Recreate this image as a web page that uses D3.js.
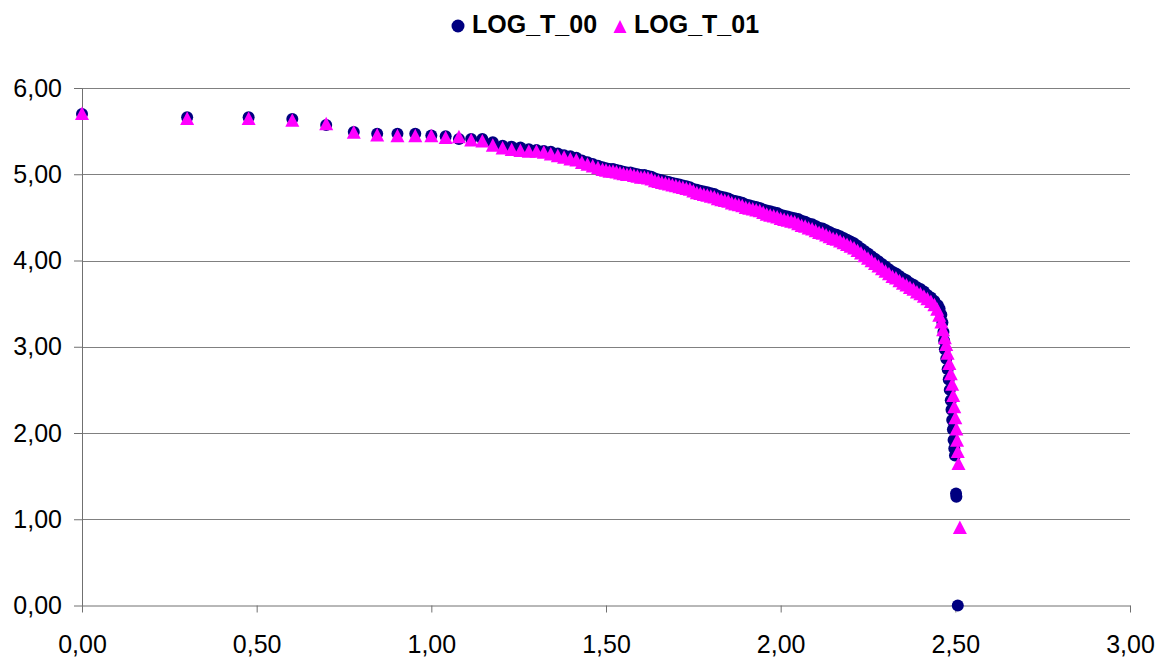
<!DOCTYPE html>
<html>
<head>
<meta charset="utf-8">
<script src="https://cdn.jsdelivr.net/npm/d3@7"></script>
<style>
  body { margin: 0; background: #fff; }
  svg { display: block; font-family: Arial, "Liberation Sans", sans-serif; }
</style>
</head>
<body>
<svg id="chart" width="1164" height="657"></svg>
<script>
// Rank-size points: [log rank, log value]
var seriesNames = ['LOG_T_00', 'LOG_T_01'];
var xTicks = [0, 0.5, 1, 1.5, 2, 2.5, 3];
var yTicks = [0, 1, 2, 3, 4, 5, 6];

var log_t_00 = [
  [0.000,5.70],[0.301,5.66],[0.477,5.66],[0.602,5.64],[0.699,5.57],[0.778,5.49],[0.845,5.47],[0.903,5.47],
  [0.954,5.47],[1.000,5.45],[1.041,5.44],[1.079,5.41],[1.114,5.41],[1.146,5.41],[1.176,5.37],[1.204,5.33],
  [1.230,5.32],[1.255,5.31],[1.279,5.29],[1.301,5.28],[1.322,5.27],[1.342,5.26],[1.362,5.24],[1.380,5.22],
  [1.398,5.21],[1.415,5.19],[1.431,5.16],[1.447,5.14],[1.462,5.12],[1.477,5.10],
  [1.49,5.08],[1.50,5.07],[1.51,5.06],[1.52,5.06],[1.53,5.05],[1.54,5.04],[1.55,5.03],[1.56,5.02],
  [1.57,5.02],[1.58,5.01],[1.59,5.00],[1.60,4.99],[1.61,4.99],[1.62,4.98],[1.63,4.97],[1.64,4.95],
  [1.65,4.94],[1.66,4.93],[1.67,4.92],[1.68,4.91],[1.69,4.90],[1.70,4.89],[1.71,4.88],[1.72,4.87],
  [1.73,4.86],[1.74,4.85],[1.75,4.83],[1.76,4.82],[1.77,4.81],[1.78,4.80],[1.79,4.79],[1.80,4.78],
  [1.81,4.77],[1.82,4.75],[1.83,4.74],[1.84,4.73],[1.85,4.72],[1.86,4.70],[1.87,4.69],[1.88,4.68],
  [1.89,4.67],[1.90,4.65],[1.91,4.64],[1.92,4.63],[1.93,4.62],[1.94,4.61],[1.95,4.59],[1.96,4.58],
  [1.97,4.57],[1.98,4.56],[1.99,4.55],[2.00,4.53],[2.01,4.52],[2.02,4.51],[2.03,4.50],[2.04,4.49],
  [2.05,4.48],[2.06,4.46],[2.07,4.45],[2.08,4.43],[2.09,4.42],[2.10,4.40],[2.11,4.38],[2.12,4.37],
  [2.13,4.35],[2.14,4.33],[2.15,4.31],[2.16,4.30],[2.17,4.28],[2.18,4.26],[2.19,4.24],[2.20,4.22],
  [2.21,4.20],[2.22,4.17],[2.23,4.14],[2.24,4.11],[2.25,4.08],[2.26,4.05],[2.27,4.02],[2.28,3.99],
  [2.29,3.96],[2.30,3.93],[2.31,3.90],[2.32,3.87],[2.33,3.85],[2.34,3.82],[2.35,3.79],[2.36,3.77],
  [2.37,3.74],[2.38,3.72],[2.39,3.69],[2.40,3.67],[2.41,3.64],[2.42,3.60],[2.43,3.57],[2.44,3.53],
  [2.45,3.48],[2.455,3.44],[2.460,3.37],[2.463,3.28],[2.466,3.17],[2.468,3.07],[2.470,2.97],[2.474,2.86],
  [2.478,2.74],[2.481,2.62],[2.484,2.50],[2.487,2.38],[2.489,2.27],[2.491,2.15],[2.493,2.04],[2.495,1.92],
  [2.497,1.82],[2.499,1.74],[2.502,1.30],[2.503,1.26],[2.507,0.00]
];

var log_t_01 = [
  [0.000,5.70],[0.301,5.64],[0.477,5.64],[0.602,5.62],[0.699,5.58],[0.778,5.48],[0.845,5.45],[0.903,5.44],
  [0.954,5.44],[1.000,5.44],[1.041,5.42],[1.079,5.43],[1.114,5.39],[1.146,5.38],[1.176,5.33],[1.204,5.30],
  [1.230,5.28],[1.255,5.27],[1.279,5.26],[1.301,5.26],[1.322,5.25],[1.342,5.23],[1.362,5.21],[1.380,5.19],
  [1.398,5.17],[1.415,5.16],[1.431,5.13],[1.447,5.11],[1.462,5.09],[1.477,5.07],
  [1.49,5.05],[1.50,5.04],[1.51,5.03],[1.52,5.03],[1.53,5.02],[1.54,5.01],[1.55,5.00],[1.56,4.99],
  [1.57,4.99],[1.58,4.98],[1.59,4.97],[1.60,4.96],[1.61,4.96],[1.62,4.95],[1.63,4.94],[1.64,4.92],
  [1.65,4.91],[1.66,4.90],[1.67,4.89],[1.68,4.88],[1.69,4.87],[1.70,4.86],[1.71,4.85],[1.72,4.84],
  [1.73,4.83],[1.74,4.82],[1.75,4.80],[1.76,4.78],[1.77,4.77],[1.78,4.76],[1.79,4.75],[1.80,4.74],
  [1.81,4.73],[1.82,4.71],[1.83,4.70],[1.84,4.69],[1.85,4.68],[1.86,4.66],[1.87,4.65],[1.88,4.64],
  [1.89,4.63],[1.90,4.61],[1.91,4.60],[1.92,4.59],[1.93,4.58],[1.94,4.57],[1.95,4.55],[1.96,4.53],
  [1.97,4.52],[1.98,4.51],[1.99,4.50],[2.00,4.48],[2.01,4.47],[2.02,4.46],[2.03,4.45],[2.04,4.44],
  [2.05,4.42],[2.06,4.40],[2.07,4.39],[2.08,4.37],[2.09,4.36],[2.10,4.34],[2.11,4.32],[2.12,4.31],
  [2.13,4.29],[2.14,4.27],[2.15,4.25],[2.16,4.24],[2.17,4.22],[2.18,4.20],[2.19,4.18],[2.20,4.16],
  [2.21,4.14],[2.22,4.11],[2.23,4.08],[2.24,4.05],[2.25,4.02],[2.26,3.99],[2.27,3.96],[2.28,3.93],
  [2.29,3.90],[2.30,3.87],[2.31,3.84],[2.32,3.81],[2.33,3.79],[2.34,3.76],[2.35,3.73],[2.36,3.71],
  [2.37,3.68],[2.38,3.66],[2.39,3.63],[2.40,3.61],[2.41,3.58],[2.42,3.55],[2.43,3.52],[2.44,3.48],
  [2.448,3.43],[2.454,3.36],[2.460,3.28],[2.465,3.19],[2.470,3.10],[2.474,3.02],[2.478,2.92],[2.483,2.80],
  [2.487,2.68],[2.491,2.56],[2.494,2.43],[2.497,2.30],[2.500,2.17],[2.503,2.04],[2.505,1.91],[2.507,1.78],
  [2.509,1.64],[2.513,0.90]
];

var svg = d3.select('#chart');
var plot = {left: 82, right: 1130, top: 88, bottom: 605.5};

var x = d3.scaleLinear().domain([0, 3]).range([plot.left, plot.right]);
var y = d3.scaleLinear().domain([0, 6]).range([plot.bottom, plot.top]);

// excel style numbers, comma as decimal sign
var fmt = d3.formatLocale({decimal: ',', thousands: '.', grouping: [3], currency: ['', '']}).format('.2f');

var tri = 'M0,-7.5L7,6L-7,6Z';

// gridlines
svg.append('g')
  .selectAll('line')
  .data(yTicks.filter(function(d) { return d > 0; }))
  .join('line')
    .attr('x1', plot.left)
    .attr('x2', plot.right)
    .attr('y1', function(d) { return Math.round(y(d)) + 0.5; })
    .attr('y2', function(d) { return Math.round(y(d)) + 0.5; })
    .attr('stroke', '#808080')
    .attr('stroke-width', 1);

var xAxis = svg.append('g')
  .attr('transform', 'translate(0,' + plot.bottom + ')')
  .call(d3.axisBottom(x).tickValues(xTicks).tickFormat(fmt).tickSize(7).tickPadding(23).tickSizeOuter(0));

var yAxis = svg.append('g')
  .attr('transform', 'translate(' + plot.left + ',0)')
  .call(d3.axisLeft(y).tickValues(yTicks).tickFormat(fmt).tickSize(8).tickPadding(12).tickSizeOuter(0));

[xAxis, yAxis].forEach(function(a) {
  a.selectAll('path, line').attr('stroke', '#707070');
  a.selectAll('text')
    .attr('fill', '#000')
    .style('font-size', '25px')
    .style('font-family', 'Arial, "Liberation Sans", sans-serif');
});

// markers
svg.append('g')
  .selectAll('circle')
  .data(log_t_00)
  .join('circle')
    .attr('cx', function(d) { return x(d[0]); })
    .attr('cy', function(d) { return y(d[1]); })
    .attr('r', 6)
    .attr('fill', '#000080');

svg.append('g')
  .selectAll('path')
  .data(log_t_01)
  .join('path')
    .attr('d', tri)
    .attr('transform', function(d) { return 'translate(' + x(d[0]) + ',' + y(d[1]) + ')'; })
    .attr('fill', '#FF00FF');

// legend
var legend = svg.append('g').style('font-size', '25px').style('font-weight', 'bold');
legend.append('circle').attr('cx', 458).attr('cy', 26).attr('r', 6.5).attr('fill', '#000080');
legend.append('text').attr('x', 472).attr('y', 33).text(seriesNames[0]);
legend.append('path').attr('d', 'M0,-7L6.5,6L-6.5,6Z').attr('transform', 'translate(620,27)').attr('fill', '#FF00FF');
legend.append('text').attr('x', 634).attr('y', 33).text(seriesNames[1]);
</script>
</body>
</html>
